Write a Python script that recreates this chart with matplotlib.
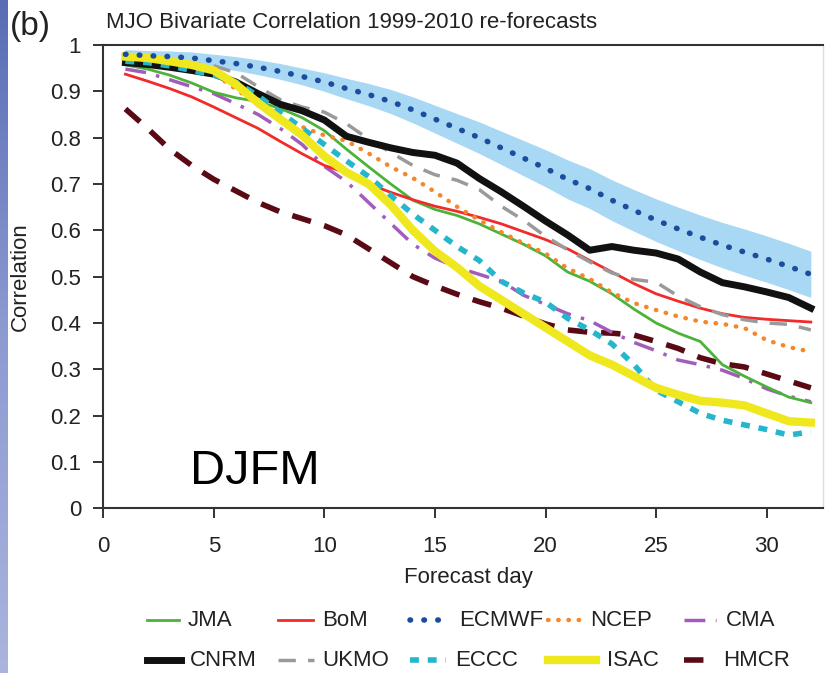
import matplotlib
matplotlib.use("Agg")
import matplotlib.pyplot as plt
from matplotlib.lines import Line2D
from matplotlib.colors import LinearSegmentedColormap
import numpy as np

plt.rcParams['font.family'] = ['Liberation Sans', 'DejaVu Sans']

days = list(range(1, 33))

jma = [0.957, 0.948, 0.935, 0.918, 0.898, 0.886, 0.878, 0.863, 0.843, 0.815,
       0.775, 0.737, 0.700, 0.665, 0.645, 0.632, 0.614, 0.592, 0.570, 0.545,
       0.510, 0.490, 0.463, 0.430, 0.400, 0.378, 0.360, 0.310, 0.285, 0.262,
       0.240, 0.228]
bom = [0.937, 0.922, 0.906, 0.888, 0.866, 0.843, 0.820, 0.792, 0.765, 0.740,
       0.724, 0.700, 0.682, 0.666, 0.652, 0.641, 0.628, 0.614, 0.597, 0.580,
       0.560, 0.535, 0.510, 0.485, 0.463, 0.447, 0.432, 0.420, 0.412, 0.408,
       0.405, 0.402]
ecmwf = [0.980, 0.977, 0.975, 0.972, 0.966, 0.960, 0.952, 0.943, 0.932, 0.920,
         0.906, 0.893, 0.878, 0.860, 0.840, 0.820, 0.800, 0.778, 0.756, 0.734,
         0.710, 0.690, 0.665, 0.643, 0.622, 0.603, 0.585, 0.568, 0.553, 0.538,
         0.522, 0.505]
ecmwf_lo = [0.970, 0.966, 0.963, 0.959, 0.952, 0.945, 0.936, 0.926, 0.914, 0.900,
            0.884, 0.869, 0.852, 0.832, 0.810, 0.788, 0.766, 0.742, 0.718, 0.694,
            0.668, 0.647, 0.621, 0.598, 0.576, 0.556, 0.537, 0.519, 0.503, 0.488,
            0.472, 0.455]
ecmwf_hi = [0.990, 0.988, 0.987, 0.985, 0.980, 0.975, 0.968, 0.960, 0.950, 0.940,
            0.928, 0.917, 0.904, 0.888, 0.870, 0.852, 0.834, 0.814, 0.794, 0.774,
            0.752, 0.733, 0.709, 0.688, 0.668, 0.650, 0.633, 0.617, 0.603, 0.588,
            0.572, 0.555]
ncep = [0.960, 0.957, 0.952, 0.946, 0.938, 0.905, 0.870, 0.840, 0.823, 0.805,
        0.793, 0.766, 0.737, 0.713, 0.683, 0.651, 0.622, 0.596, 0.572, 0.550,
        0.518, 0.495, 0.466, 0.443, 0.428, 0.414, 0.403, 0.398, 0.389, 0.363,
        0.348, 0.338]
cma = [0.948, 0.940, 0.925, 0.910, 0.895, 0.873, 0.850, 0.820, 0.785, 0.738,
       0.705, 0.660, 0.615, 0.570, 0.540, 0.520, 0.505, 0.490, 0.460, 0.440,
       0.420, 0.405, 0.380, 0.358, 0.340, 0.320, 0.310, 0.298, 0.280, 0.258,
       0.242, 0.230]
cnrm = [0.962, 0.958, 0.952, 0.945, 0.937, 0.920, 0.895, 0.872, 0.858, 0.838,
        0.803, 0.790, 0.778, 0.768, 0.762, 0.745, 0.712, 0.683, 0.652, 0.620,
        0.590, 0.557, 0.565, 0.557, 0.551, 0.538, 0.510, 0.487, 0.478, 0.467,
        0.455, 0.432]
ukmo = [0.970, 0.968, 0.965, 0.960, 0.955, 0.940, 0.910, 0.882, 0.866, 0.855,
        0.830, 0.797, 0.768, 0.740, 0.720, 0.708, 0.688, 0.652, 0.622, 0.587,
        0.558, 0.532, 0.508, 0.494, 0.488, 0.458, 0.435, 0.418, 0.407, 0.400,
        0.397, 0.385]
eccc = [0.965, 0.962, 0.955, 0.945, 0.935, 0.920, 0.890, 0.855, 0.820, 0.785,
        0.750, 0.716, 0.675, 0.635, 0.600, 0.565, 0.535, 0.490, 0.465, 0.445,
        0.410, 0.385, 0.355, 0.310, 0.255, 0.230, 0.205, 0.190, 0.180, 0.170,
        0.158, 0.165]
isac = [0.975, 0.972, 0.965, 0.957, 0.945, 0.915, 0.875, 0.840, 0.805, 0.760,
        0.725, 0.700, 0.655, 0.600, 0.555, 0.520, 0.480, 0.450, 0.420, 0.390,
        0.360, 0.330, 0.310, 0.285, 0.260, 0.245, 0.232, 0.228, 0.222, 0.205,
        0.188, 0.185]
hmcr = [0.862, 0.820, 0.775, 0.740, 0.710, 0.685, 0.660, 0.640, 0.625, 0.610,
        0.590, 0.560, 0.530, 0.500, 0.480, 0.462, 0.446, 0.432, 0.415, 0.398,
        0.385, 0.380, 0.378, 0.374, 0.360, 0.345, 0.325, 0.312, 0.305, 0.290,
        0.275, 0.260]

# line style per model
styles = {
    "HMCR":  dict(color="#5a0a14", lw=4, ls=(0, (3.5, 2.5))),
    "CMA":   dict(color="#a25cba", lw=2.5, ls=(0, (6, 3, 1, 3))),
    "JMA":   dict(color="#4cb33a", lw=2),
    "BoM":   dict(color="#f22a2a", lw=2),
    "NCEP":  dict(color="#f5862a", lw=3.2, ls=(0, (0.1, 2.2)), dash_capstyle="round"),
    "UKMO":  dict(color="#9a9a9a", lw=2.5, ls=(0, (5, 3.5))),
    "CNRM":  dict(color="#111111", lw=5),
    "ECCC":  dict(color="#26b6cc", lw=4, ls=(0, (1.6, 1.6))),
    "ISAC":  dict(color="#f0e81e", lw=6),
    "ECMWF": dict(color="#1b4d9c", lw=4, ls=(0, (0.1, 2.4)), dash_capstyle="round"),
}
series = {"HMCR": hmcr, "CMA": cma, "JMA": jma, "BoM": bom, "NCEP": ncep,
          "UKMO": ukmo, "CNRM": cnrm, "ECCC": eccc, "ISAC": isac, "ECMWF": ecmwf}

W, H = 825, 673
fig = plt.figure(figsize=(W / 100, H / 100), dpi=100)

# slide edge strip on the left
strip = fig.add_axes([0, 0, 8 / W, 1])
grad = np.linspace(0, 1, 256).reshape(-1, 1)
strip.imshow(grad, aspect="auto",
             cmap=LinearSegmentedColormap.from_list("edge", ["#5a6db4", "#8d9bd2", "#aab4de"]))
strip.axis("off")

ax = fig.add_axes([103.3 / W, 1 - 508.3 / H, 719.7 / W, 463.3 / H])

ax.fill_between(days, ecmwf_lo, ecmwf_hi, color="#a8d8f4", lw=0)
for name, vals in series.items():
    ax.plot(days, vals, **styles[name])

ax.set_xlim(0, 32.55)
ax.set_ylim(0, 1)
ax.set_xticks([0, 5, 10, 15, 20, 25, 30])
ax.set_yticks([0, 0.1, 0.2, 0.3, 0.4, 0.5, 0.6, 0.7, 0.8, 0.9, 1])
ax.set_yticklabels(["0", "0.1", "0.2", "0.3", "0.4", "0.5", "0.6", "0.7", "0.8", "0.9", "1"])
ax.tick_params(direction="out", length=7, width=1.4, color="#333333",
               labelsize=16, labelcolor="#222222")
ax.tick_params(axis="x", pad=13)
ax.tick_params(axis="y", pad=9)
for s in ax.spines.values():
    s.set_color("#333333")
    s.set_linewidth(1.5)
ax.spines["right"].set_color("#dddddd")
ax.spines["right"].set_linewidth(1)

fig.text(468 / W, 1 - 577 / H, "Forecast day", fontsize=16, color="#222222",
         ha="center", va="center")
fig.text(20 / W, 1 - 276.6 / H, "Correlation", fontsize=16, color="#222222",
         ha="center", va="center", rotation=90)

fig.text(190 / W, 1 - 484 / H, "DJFM", fontsize=35, color="#000000", va="baseline")
fig.text(10 / W, 1 - 35 / H, "(b)", fontsize=24, color="#222222", va="baseline")
fig.text(106 / W, 1 - 28 / H, "MJO Bivariate Correlation 1999-2010 re-forecasts",
         fontsize=16, color="#222222", va="baseline")

# legend, two rows: (name, handle start, handle end, text start, row y)
legend_rows = [
    ("JMA", 147, 179, 188, 620), ("BoM", 278, 313, 322, 620),
    ("ECMWF", 410, 447, 459, 620), ("NCEP", 548, 584, 590, 620),
    ("CMA", 684, 716, 726, 620),
    ("CNRM", 147, 181, 190, 660), ("UKMO", 278, 314, 322, 660),
    ("ECCC", 410, 446, 455, 660), ("ISAC", 548, 596, 607, 660),
    ("HMCR", 684, 714, 723, 660),
]
for name, x0, x1, xt, y in legend_rows:
    fig.add_artist(Line2D([x0 / W, x1 / W], [1 - y / H, 1 - y / H],
                          transform=fig.transFigure, **styles[name]))
    fig.text(xt / W, 1 - y / H, name, fontsize=16, color="#222222",
             ha="left", va="center")

fig.savefig("out.png", dpi=100)
